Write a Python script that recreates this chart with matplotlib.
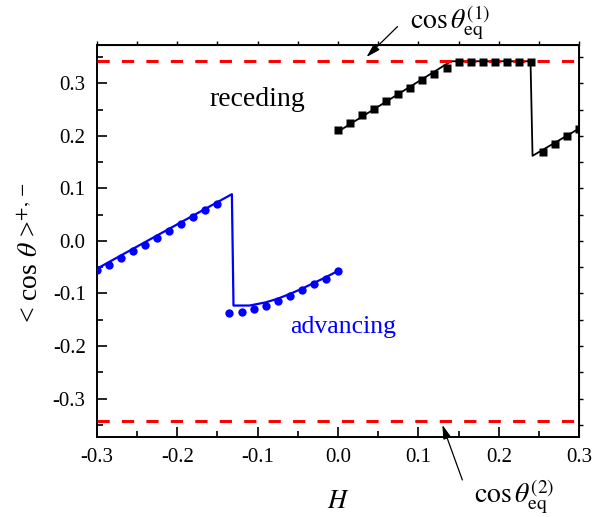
import numpy as np
import matplotlib
matplotlib.use("Agg")
import matplotlib.pyplot as plt
from matplotlib.ticker import MultipleLocator

plt.rcParams["font.family"] = ["Liberation Serif", "DejaVu Serif"]
plt.rcParams["mathtext.fontset"] = "stix"

# ── Data ──────────────────────────────────────────────────────────────────────
adv_dots_h1 = [-0.300, -0.285, -0.270, -0.255, -0.240, -0.225, -0.210,
               -0.195, -0.180, -0.165, -0.150]
adv_dots_v1 = [-0.056, -0.045, -0.032, -0.020, -0.008, 0.006, 0.019,
               0.032, 0.045, 0.059, 0.071]
adv_dots_h2 = [-0.135, -0.120, -0.105, -0.090, -0.075, -0.060, -0.045,
               -0.030, -0.015, 0.000]
adv_dots_v2 = [-0.138, -0.135, -0.130, -0.123, -0.114, -0.105, -0.093,
               -0.082, -0.072, -0.058]

adv_line_h = [-0.300, -0.132, -0.130, -0.110, -0.090, -0.075, -0.060,
              -0.045, -0.030, -0.015, 0.000]
adv_line_v = [-0.053, 0.089, -0.123, -0.123, -0.117, -0.110, -0.101,
              -0.091, -0.080, -0.069, -0.057]

rec_sq_h = [0.000, 0.015, 0.030, 0.045, 0.060, 0.075, 0.090, 0.105, 0.120,
            0.135, 0.150, 0.165, 0.180, 0.195, 0.210, 0.225, 0.240,
            0.255, 0.270, 0.285, 0.300]
rec_sq_v = [0.211, 0.225, 0.239, 0.252, 0.266, 0.279, 0.292, 0.306, 0.318,
            0.329, 0.341, 0.341, 0.341, 0.341, 0.341, 0.341, 0.341,
            0.170, 0.184, 0.199, 0.213]

rec_line_h = [0.000, 0.1405, 0.2395, 0.2420, 0.300]
rec_line_v = [0.208, 0.342, 0.342, 0.162, 0.214]

cos_eq1 = 0.342
cos_eq2 = -0.342

# ── Figure ────────────────────────────────────────────────────────────────────
fig = plt.figure(figsize=(6.09, 5.17), dpi=100)
ax = fig.add_axes([0.159, 0.155, 0.792, 0.758])

ax.axhline(cos_eq1, color="#ff0000", lw=2.2, ls=(0, (4, 4)), zorder=3)
ax.axhline(cos_eq2, color="#ff0000", lw=2.2, ls=(0, (4, 4)), zorder=3)

ax.plot(adv_line_h, adv_line_v, color="#0000ff", lw=1.6, zorder=2)
ax.plot(adv_dots_h1 + adv_dots_h2, adv_dots_v1 + adv_dots_v2, "o",
        color="#0000ff", ms=6, mec="none", zorder=4)

ax.plot(rec_line_h, rec_line_v, color="black", lw=1.3, zorder=2)
ax.plot(rec_sq_h, rec_sq_v, "s", color="black", ms=5.5, mec="none", zorder=4)

ax.set_xlim(-0.3, 0.3)
ax.set_ylim(-0.373, 0.373)
ax.xaxis.set_major_locator(MultipleLocator(0.1))
ax.xaxis.set_minor_locator(MultipleLocator(0.05))
ax.yaxis.set_major_locator(MultipleLocator(0.1))
ax.yaxis.set_minor_locator(MultipleLocator(0.05))
ax.xaxis.set_major_formatter(lambda v, p: f"{v:.1f}".replace("-0.0", "0.0"))
ax.yaxis.set_major_formatter(lambda v, p: f"{v:.1f}".replace("-0.0", "0.0"))

ax.tick_params(which="both", direction="in", labelsize=15, width=1.2,
               top=False, right=False)
ax.tick_params(which="major", length=7, pad=8)
ax.tick_params(which="minor", length=4)
sec = ax.secondary_xaxis("top")
sec.xaxis.set_major_locator(MultipleLocator(0.05))
sec.tick_params(direction="out", length=3, width=1.0, labeltop=False)
secy = ax.secondary_yaxis("right")
secy.yaxis.set_major_locator(MultipleLocator(0.05))
secy.tick_params(direction="out", length=3, width=1.0, labelright=False)
for sp in ax.spines.values():
    sp.set_linewidth(1.4)

ax.set_xlabel("$H$", fontsize=19, labelpad=17)
ax.set_ylabel(r"< cos $\theta$ >$^{+,-}$", fontsize=20)
ax.yaxis.set_label_coords(-0.11, 0.47)

ax.text(-0.100, 0.270, "receding", fontsize=20, ha="center", va="center")
ax.text(0.006, -0.163, "advancing", fontsize=18.5, color="#0000ff",
        ha="center", va="center")

# equilibrium labels + arrows
ax.text(0.140, 0.415, r"$\cos\theta^{(1)}_{\rm eq}$", fontsize=20,
        ha="center", va="center", clip_on=False)
ax.text(0.219, -0.487, r"$\cos\theta^{(2)}_{\rm eq}$", fontsize=20,
        ha="center", va="center", clip_on=False)
arrow = dict(arrowstyle="-|>,head_length=0.7,head_width=0.2", color="black",
             lw=0.9, shrinkA=0, shrinkB=0, mutation_scale=12)
ax.annotate("", xy=(0.0354, 0.350), xytext=(0.074, 0.408),
            annotation_clip=False, arrowprops=arrow)
ax.annotate("", xy=(0.1298, -0.350), xytext=(0.1547, -0.455),
            annotation_clip=False, arrowprops=arrow)

fig.savefig("out.png", dpi=100)
